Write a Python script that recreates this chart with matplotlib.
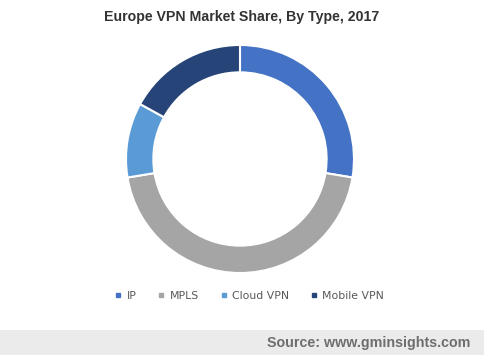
import matplotlib.pyplot as plt
from matplotlib.patches import Rectangle
from matplotlib.lines import Line2D

plt.rcParams['font.family'] = ['Liberation Sans', 'DejaVu Sans']

labels = ['IP', 'MPLS', 'Cloud VPN', 'Mobile VPN']
shares = [27.6, 44.8, 10.6, 17.0]
colors = ['#4472C4', '#A5A5A5', '#5B9BD5', '#264478']

fig = plt.figure(figsize=(4.84, 3.55), dpi=100)

## donut
ax = fig.add_axes([0.2603, 0.231, 0.4711, 0.6423])
ax.pie(shares, colors=colors, startangle=90, counterclock=False,
       wedgeprops=dict(width=0.24, edgecolor='white', linewidth=1.5))
ax.set_xlim(-1, 1)
ax.set_ylim(-1, 1)
ax.set_aspect('equal')

fig.text(0.5, 0.952, 'Europe VPN Market Share, By Type, 2017', ha='center', va='center',
         fontsize=10.2, fontweight='bold', color='#333333')

## legend
handles = [Line2D([], [], marker='s', markersize=3.5, linestyle='None', color=c) for c in colors]
fig.legend(handles, labels, loc='center', bbox_to_anchor=(0.5145, 0.166), ncol=4, frameon=False,
           prop={'family': 'DejaVu Sans', 'size': 7.8}, labelcolor='#595959',
           handletextpad=0.35, columnspacing=1.9, handlelength=0.8)

## footer band
fig.patches.append(Rectangle((0, 0), 1, 0.0704, transform=fig.transFigure, facecolor='#EBEBEB',
                             edgecolor='none', zorder=0))
fig.text(0.971, 0.035, 'Source: www.gminsights.com', ha='right', va='center',
         fontsize=10.3, fontweight='bold', color='#6E6E6E')

fig.savefig('out.png', dpi=100)
